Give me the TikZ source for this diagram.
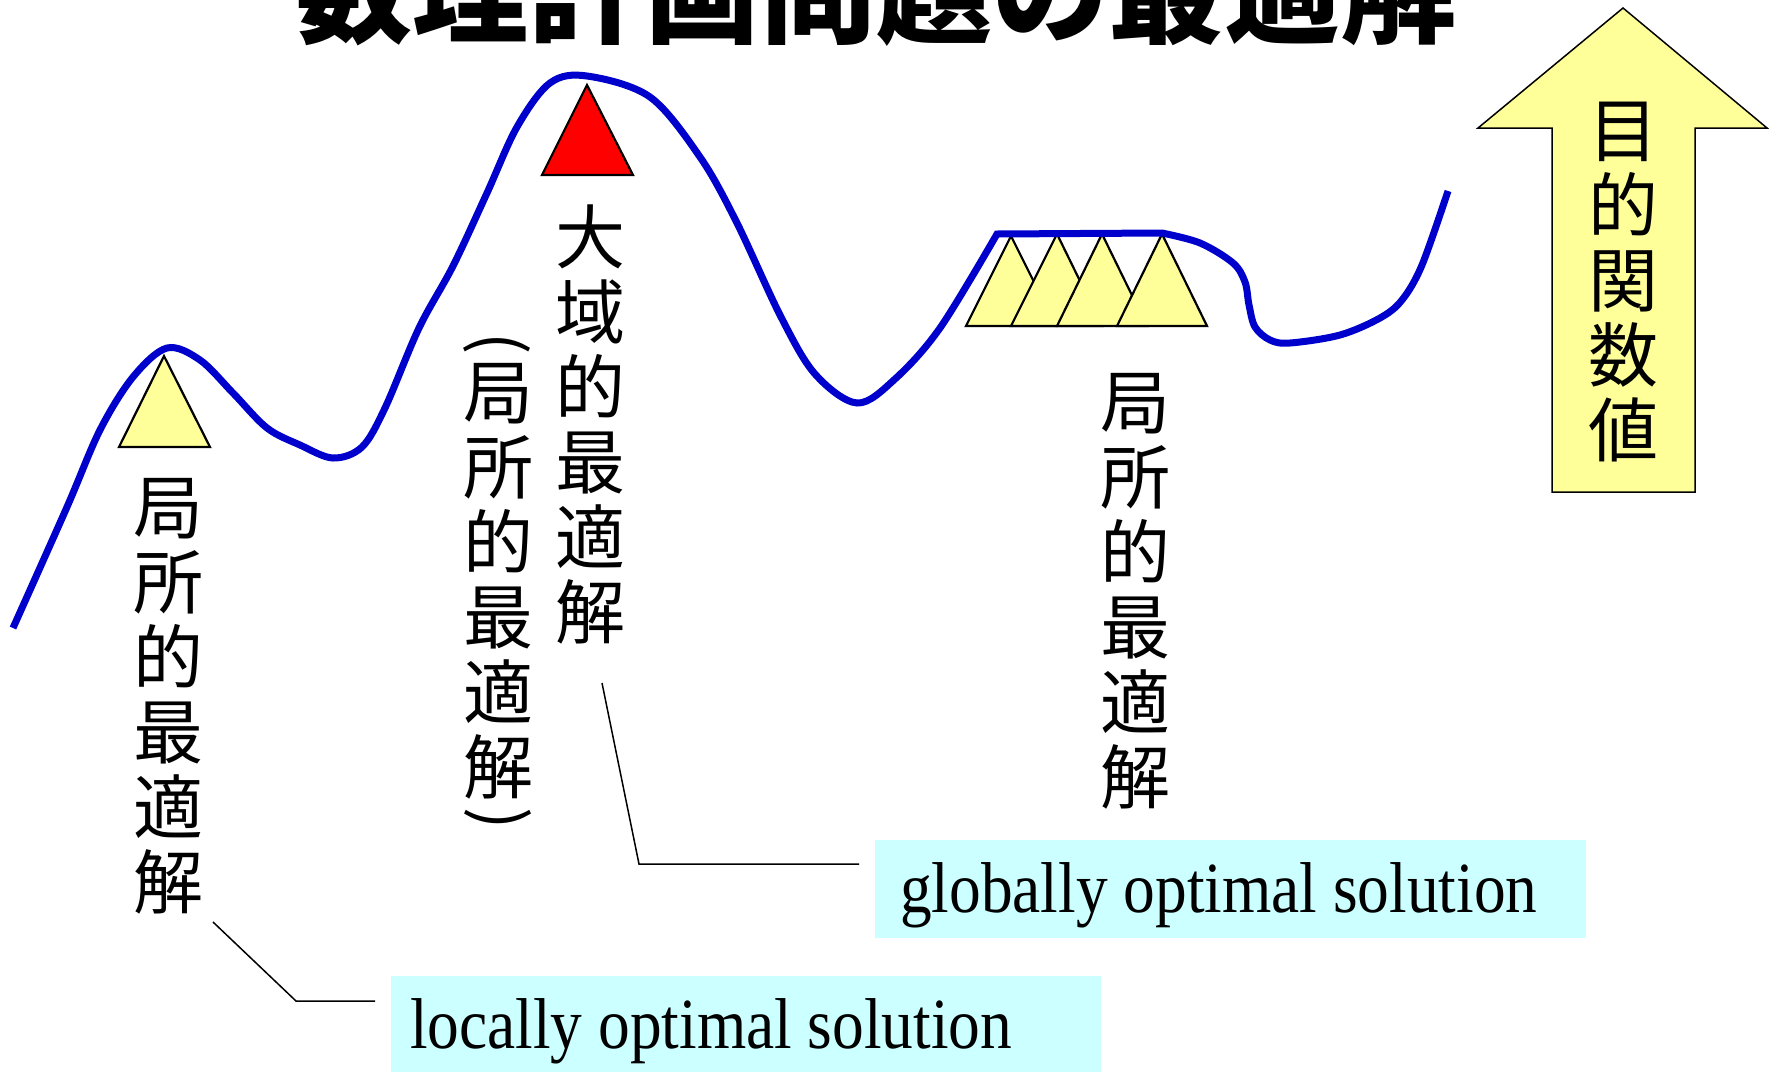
\documentclass[tikz,border=0pt]{standalone}
\usepackage{fontspec}
\usepackage{graphicx}
\newfontfamily\jp{Noto Sans CJK JP}
\newfontfamily\lat{Liberation Serif}[FakeStretch=0.88]
\definecolor{curveblue}{HTML}{0000CC}
\definecolor{triyellow}{HTML}{FFFF99}
\definecolor{boxcyan}{HTML}{CCFFFF}
\definecolor{topred}{HTML}{FF0000}
\begin{document}
\begin{tikzpicture}[x=1pt,y=-1pt,
  curve/.style={draw=curveblue,line width=7pt,line join=miter},
  tri/.style={draw=black,line width=2.2pt,fill=triyellow,line join=miter},
  redtri/.style={tri,fill=topred},
  vlabel/.style={font=\jp\fontsize{70}{75}\selectfont,align=center,inner sep=0pt,anchor=north},
  vparen/.style={font=\jp\fontsize{66}{75}\selectfont,inner sep=0pt,anchor=center},
  leader/.style={draw=black,line width=1.5pt},
  labelbox/.style={fill=boxcyan,draw=none,inner sep=0pt,anchor=north west},
  lattext/.style={font=\lat\fontsize{72}{80}\selectfont,inner sep=0pt,anchor=base west},
  upbox/.style={draw=black,line width=1.5pt,fill=triyellow,line join=miter}]
\useasboundingbox (0,0) rectangle (1776,1071);
\clip (0,0) rectangle (1776,1071);

% title (cut off at the top)
\node[font=\jp\bfseries\fontsize{116}{116}\selectfont,anchor=south,inner sep=0pt] (title) at (876,47) {数理計画問題の最適解};

% triangles
\draw[tri] (119,447) -- (164,356) -- (210,447) -- cycle;
\draw[redtri] (542,175) -- (587,85) -- (633,175) -- cycle;
\draw[tri] (966,326) -- (1011,236) -- (1056,326) -- cycle;
\draw[tri] (1011,326) -- (1057,234) -- (1102,326) -- cycle;
\draw[tri] (1057,326) -- (1102,234) -- (1147,326) -- cycle;
\draw[tri] (1117,326) -- (1162,234) -- (1207,326) -- cycle;

% objective curve
\draw[curve] plot[smooth,tension=0.55] coordinates {(13,628) (67,507) (100,430) (133,377) (167,348) (200,360) (233,393) (267,428) (300,445) (333,458) (362,447) (385,408) (419,328) (453,266) (487,193) (517,127) (550,83) (587,76) (650,97) (700,157) (736,221) (781,317) (815,374) (857,403) (895,379) (940,328) (997,234)}
  -- plot[smooth,tension=0.55] coordinates {(1162,233) (1200,243) (1233,263) (1245,282) (1249,305) (1255,327) (1270,340) (1290,343) (1340,335) (1380,318) (1402,300) (1422,265) (1448,191)};

% up arrow
\draw[upbox] (1623,8) -- (1767,128) -- (1695,128) -- (1695,492) -- (1552,492) -- (1552,128) -- (1478,128) -- cycle;
\node[vlabel] (objv) at (1623,102) {目\\的\\関\\数\\値};

% vertical labels
\node[vlabel] (loc1) at (168,478) {局\\所\\的\\最\\適\\解};
\node[vlabel] (glob) at (590,205) {大\\域\\的\\最\\適\\解};
\node[vlabel] (loc2) at (498,363) {局\\所\\的\\最\\適\\解};
\node[vparen] (pl) at (497,344) {\rotatebox{-90}{(}};
\node[vparen] (pr) at (498,819) {\rotatebox{-90}{)}};
\node[vlabel] (loc3) at (1135,373) {局\\所\\的\\最\\適\\解};

% English label boxes
\node[labelbox,minimum width=711pt,minimum height=98pt] (gbox) at (875,840) {};
\node[lattext] (gtext) at (900,912) {globally optimal solution};
\node[labelbox,minimum width=710pt,minimum height=100pt] (lbox) at (391,976) {};
\node[lattext] (ltext) at (410,1048) {locally optimal solution};

% leader lines
\coordinate (g1) at (602,683);
\coordinate (g2) at (639,864);
\coordinate (g3) at (859,864);
\draw[leader] (g1) -- (g2) -- (g3);
\coordinate (l1) at (213,922);
\coordinate (l2) at (296,1001);
\coordinate (l3) at (375,1001);
\draw[leader] (l1) -- (l2) -- (l3);
\end{tikzpicture}
\end{document}
